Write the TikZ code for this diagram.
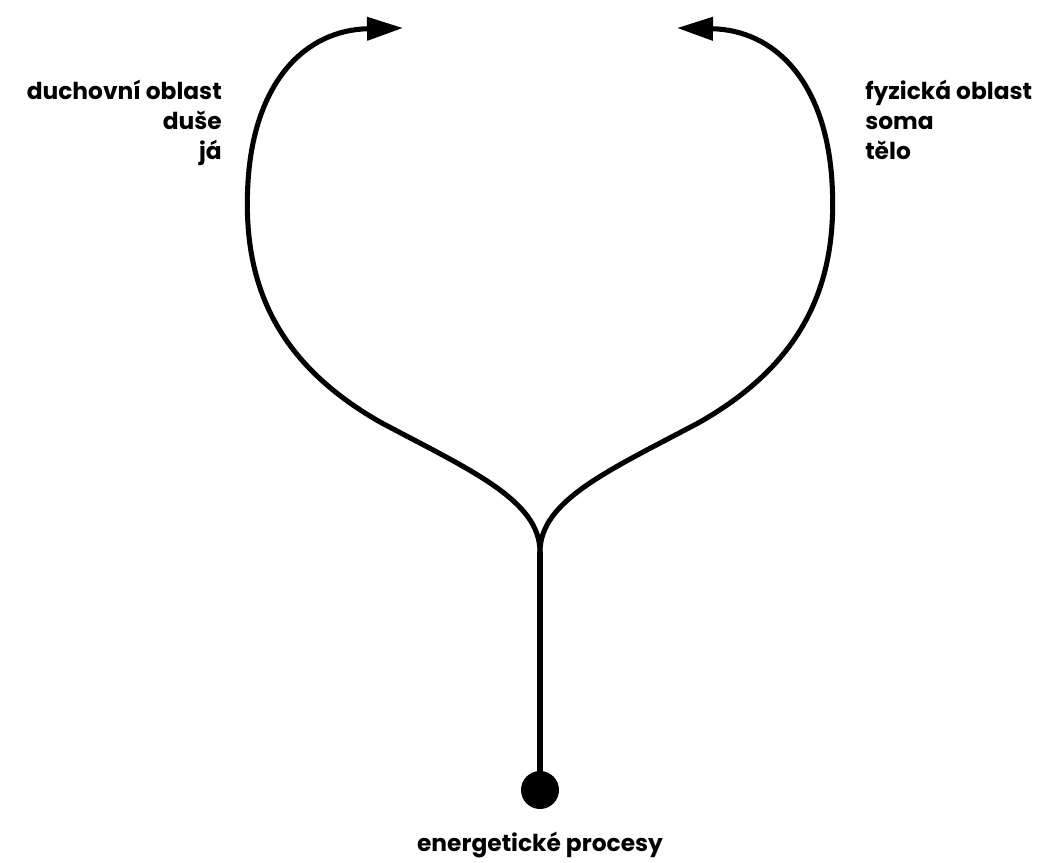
\documentclass[tikz,border=0pt]{standalone}
\usepackage{fontspec}
\setmainfont{Poppins}
\usetikzlibrary{arrows.meta}
\tikzset{
  lbl/.style    ={font=\fontsize{17.5}{22.5}\selectfont\bfseries, inner sep=0pt},
  stem/.style   ={line width=4.8pt},
  branch/.style ={line width=3.8pt, -{Triangle[length=27pt, width=17pt]}},
  src/.style    ={circle, fill=black, minimum size=28.5pt, inner sep=0pt},
}

\begin{document}
\begin{tikzpicture}[x=0.75pt, y=-0.75pt]
  \useasboundingbox[fill=white] (0,0) rectangle (1039,863);

  \node[src](src) at (540,790){};
  \coordinate (j) at (540,552);
  \coordinate (lend) at (403,28);
  \coordinate (rend) at (677,28);

  % stem and the two branches
  \draw[stem](src.center) -- (j);
  \draw[branch](j) .. controls (540,500) and (470,470) .. (380,422)
                   .. controls (275,362) and (242,282) .. (248,182)
                   .. controls (254,82) and (305,30) .. (lend);
  \draw[branch](j) .. controls (540,500) and (610,470) .. (700,422)
                   .. controls (805,362) and (838,282) .. (832,182)
                   .. controls (826,82) and (775,30) .. (rend);

  \node[lbl, anchor=north east, align=right](left) at (222,80)
        {duchovní oblast\\ duše\\ já};
  \node[lbl, anchor=north west, align=left](right) at (865,80)
        {fyzická oblast\\ soma\\ tělo};
  \node[lbl](proc) at (540,845){energetické procesy};
\end{tikzpicture}
\end{document}
